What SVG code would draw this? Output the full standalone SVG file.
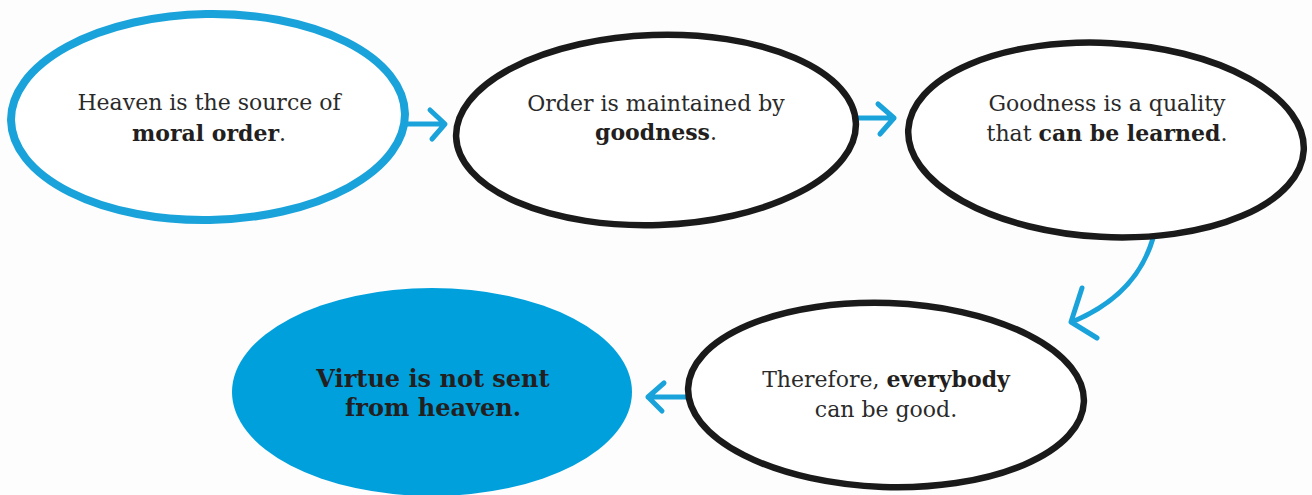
<svg xmlns="http://www.w3.org/2000/svg" width="1312" height="495" viewBox="0 0 1312 495">
<defs>
<style>
.bg{fill:#fdfdfe}
.outB{fill:#ffffff;stroke:#1aa3da;stroke-width:8}
.outK{fill:#ffffff;stroke:#1a1a1a;stroke-width:6.5}
.fillB{fill:#00a0dc}
.t{font-family:"DejaVu Serif","Liberation Serif",serif;font-size:22px;fill:#2a2a2a;text-anchor:middle}
.b{font-weight:bold;fill:#231f20}
.big{font-size:24px}
.arr{fill:none;stroke:#1aa3da;stroke-width:5;stroke-linecap:round;stroke-linejoin:round}
</style>
</defs>
<rect class="bg" width="1312" height="495"/>
<g id="connectors">
<path class="arr" d="M404 124 L444 124 M430 110 L445 124 L432 139"/>
<path class="arr" d="M856 118 L894 118 M878 104 L894 118 L880 134"/>
<path class="arr" d="M1157 220 C1150 265 1125 300 1072 322 M1082 288 L1071 322 L1097 338"/>
<path class="arr" d="M688 397 L648 397 M664 383 L648 397 L662 411"/>
</g>
<g id="n1">
<ellipse class="outB" cx="208" cy="117" rx="197" ry="103" transform="rotate(-1 208 117)"/>
<text class="t" x="209" y="110">Heaven is the source of</text>
<text class="t" x="209" y="141"><tspan class="b">moral order</tspan>.</text>
</g>
<g id="n2">
<ellipse class="outK" cx="656" cy="130" rx="200" ry="95" transform="rotate(-2 656 130)"/>
<text class="t" x="656" y="111">Order is maintained by</text>
<text class="t" x="656" y="140"><tspan class="b">goodness</tspan>.</text>
</g>
<g id="n3">
<ellipse class="outK" cx="1106" cy="140" rx="198" ry="97" transform="rotate(3 1106 140)"/>
<text class="t" x="1107" y="111">Goodness is a quality</text>
<text class="t" x="1107" y="141">that <tspan class="b">can be learned</tspan>.</text>
</g>
<g id="n4">
<ellipse class="outK" cx="886" cy="395" rx="198" ry="92" transform="rotate(2 886 395)"/>
<text class="t" x="886" y="387">Therefore, <tspan class="b">everybody</tspan></text>
<text class="t" x="886" y="417">can be good.</text>
</g>
<g id="n5">
<ellipse class="fillB" cx="432" cy="392" rx="200" ry="104"/>
<text class="t b big" x="433" y="387">Virtue is not sent</text>
<text class="t b big" x="433" y="416">from heaven.</text>
</g>
</svg>
